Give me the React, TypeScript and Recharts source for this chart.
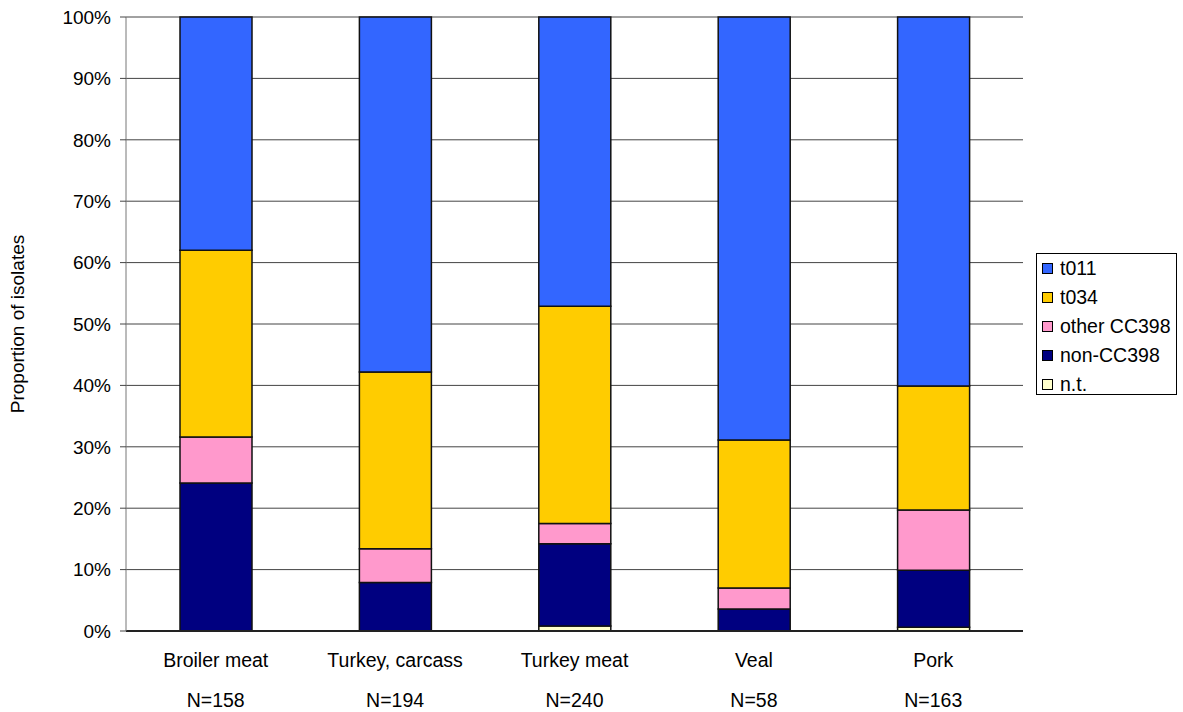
import React from "react";
import { BarChart, Bar, XAxis, YAxis, CartesianGrid } from "recharts";

const categories = ["Broiler meat", "Turkey, carcass", "Turkey meat", "Veal", "Pork"];
const sampleSizes = ["N=158", "N=194", "N=240", "N=58", "N=163"];

// segment sizes in %, bottom to top
const nt = [0, 0, 0.8, 0, 0.6];
const nonCC398 = [24.1, 7.9, 13.4, 3.6, 9.3];
const otherCC398 = [7.5, 5.5, 3.3, 3.4, 9.8];
const t034 = [30.4, 28.8, 35.4, 24.1, 20.2];
const t011 = [38.0, 57.8, 47.1, 68.9, 60.1];

const yTicks = [0, 10, 20, 30, 40, 50, 60, 70, 80, 90, 100];

const series = [
  { key: "nt", name: "n.t.", color: "#FFFFCC", values: nt },
  { key: "non", name: "non-CC398", color: "#000080", values: nonCC398 },
  { key: "other", name: "other CC398", color: "#FF99CC", values: otherCC398 },
  { key: "t034", name: "t034", color: "#FFCC00", values: t034 },
  { key: "t011", name: "t011", color: "#3366FF", values: t011 },
];

const data = categories.map((name, i) => {
  const row: any = { name, n: sampleSizes[i] };
  series.forEach((s) => (row[s.key] = s.values[i]));
  return row;
});

const FONT = "'Liberation Sans', Arial, sans-serif";

const CategoryTick = (props: any) => {
  const { x, y, payload, index } = props;
  return (
    <g>
      <text x={x} y={y + 28} textAnchor="middle" fontSize={19.5} fill="#000" fontFamily={FONT}>
        {payload.value}
      </text>
      <text x={x} y={y + 68} textAnchor="middle" fontSize={19.5} fill="#000" fontFamily={FONT}>
        {sampleSizes[index]}
      </text>
    </g>
  );
};

const AxisTitle = (props: any) => {
  const vb = props.viewBox || {};
  const cy = vb.y + vb.height / 2;
  return (
    <text
      x={17}
      y={cy}
      transform={`rotate(-90, 17, ${cy})`}
      textAnchor="middle"
      dominantBaseline="central"
      fontSize={19}
      fill="#000"
      fontFamily={FONT}
    >
      Proportion of isolates
    </text>
  );
};

const App = () => {
  return (
    <div style={{ position: "absolute", left: 0, top: 0, width: 1183, height: 712, background: "#fff" }}>
      <BarChart
        width={1183}
        height={712}
        data={data}
        margin={{ top: 17, right: 160, left: 0, bottom: 0 }}
        barSize={72}
      >
        <CartesianGrid vertical={false} stroke="#444" strokeWidth={1} />
        <XAxis
          dataKey="name"
          height={81}
          tickLine={false}
          axisLine={{ stroke: "#222", strokeWidth: 2 }}
          tick={<CategoryTick />}
          interval={0}
        />
        <YAxis
          width={126}
          domain={[0, 100]}
          ticks={yTicks}
          tickFormatter={(v: number) => `${v}%`}
          tickSize={6}
          tickMargin={9}
          tickLine={{ stroke: "#444" }}
          axisLine={{ stroke: "#777" }}
          tick={{ fontSize: 19, fill: "#000", fontFamily: FONT }}
          label={<AxisTitle />}
        />
        <YAxis
          yAxisId="frame"
          orientation="right"
          width={0}
          domain={[0, 1]}
          tick={false}
          tickLine={false}
          axisLine={{ stroke: "#777" }}
        />
        {series.map((s) => (
          <Bar
            key={s.key}
            dataKey={s.key}
            name={s.name}
            stackId="a"
            fill={s.color}
            stroke="#111"
            strokeWidth={1.5}
            isAnimationActive={false}
          />
        ))}
      </BarChart>
      <div
        style={{
          position: "absolute",
          left: 1036,
          top: 253,
          width: 141,
          height: 142,
          border: "1px solid #000",
          fontFamily: FONT,
          fontSize: 19.5,
          boxSizing: "border-box",
          paddingTop: 0,
        }}
      >
        {[...series].reverse().map((s) => (
          <div
            key={s.key}
            style={{ display: "flex", alignItems: "center", height: 29, paddingLeft: 5, whiteSpace: "nowrap" }}
          >
            <span
              style={{
                display: "inline-block",
                width: 9,
                height: 9,
                background: s.color,
                border: "1px solid #000",
                marginRight: 7,
                flexShrink: 0,
              }}
            />
            <span style={{ lineHeight: "29px" }}>{s.name}</span>
          </div>
        ))}
      </div>
    </div>
  );
};

export default App;
